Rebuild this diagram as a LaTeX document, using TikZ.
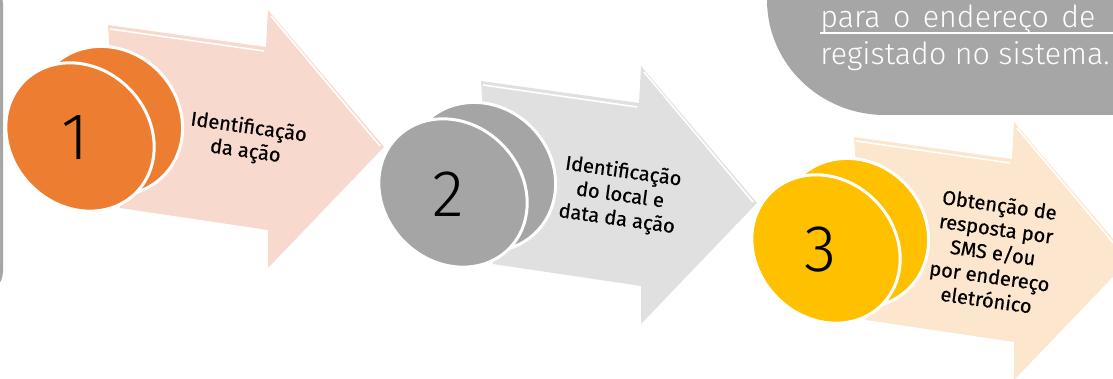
\documentclass[tikz,border=0pt]{standalone}
\usepackage{fontspec}
\setmainfont{Fira Sans}
\newfontfamily\lightfont{Fira Sans Light}
\newfontfamily\labelfont{Fira Sans}[FakeBold=0.6]
\usetikzlibrary{shapes.geometric}

\definecolor{stepone}{HTML}{ED7D31}
\definecolor{steponelight}{HTML}{F7D9CE}
\definecolor{steptwo}{HTML}{A5A5A5}
\definecolor{steptwolight}{HTML}{E0E0E0}
\definecolor{stepthree}{HTML}{FFC000}
\definecolor{stepthreelight}{HTML}{FCE6CD}
\definecolor{panelgrey}{HTML}{A6A6A6}

\begin{document}
\begin{tikzpicture}[
  x=0.5pt, y=-0.5pt,
  bigarrow/.style={fill=#1},
  glint/.style={draw=white, line width=0.8pt},
  backdisc/.style={ellipse, fill=#1, draw=white, line width=1.5pt, minimum width=78pt, minimum height=71pt, rotate=-45},
  frontdisc/.style={ellipse, fill=#1, draw=white, line width=1.5pt, minimum width=79pt, minimum height=69pt, rotate=-45},
  digit/.style={inner sep=0pt, font=\lightfont\fontsize{33}{33}\selectfont},
  steplabel/.style={align=center, rotate=-8, inner sep=0pt, font=\labelfont\fontsize{10}{12}\selectfont},
  paneltext/.style={anchor=base west, inner sep=0pt, text=white, font=\lightfont\fontsize{15.2}{17}\selectfont}
]
\useasboundingbox (0,0) rectangle (1113,379);
\clip (0,0) rectangle (1113,379);

% grey panels cut by the page edge
\fill[panelgrey, rounded corners=12pt] (-40,-20) rectangle (3,295);
\fill[panelgrey] (767,-20) -- (767,0) arc[start angle=180, end angle=90, x radius=118, y radius=115] -- (1130,115) -- (1130,-20) -- cycle;
\node[paneltext] (panel1) at (820,28) {\makebox[137.5pt][s]{para o endereço de}};
\node[paneltext] (panel2) at (820,65) {registado no sistema.};
\draw[white, line width=0.75pt] ([yshift=-2.5pt]panel1.base west) -- ++(300,0);

% step 1
\fill[bigarrow=steponelight] (108,25) -- (266,47) -- (268,10) -- (384,147) -- (268,268) -- (268,230) -- (120,208) -- cycle;
\draw[glint] (110,29) -- (264,51) (271,16) -- (380,146);
\node[backdisc=stepone] (back1) at (108,121) {};
\node[frontdisc=stepone] (disc1) at (80,137) {};
\node[digit] (num1) at (75,138) {1};
\node[steplabel] (label1) at (247,140) {Identificação\\da ação};

% step 2
\begin{scope}[shift={(373,56)}]
\fill[bigarrow=steptwolight] (108,25) -- (266,47) -- (268,10) -- (384,147) -- (268,268) -- (268,230) -- (120,208) -- cycle;
\draw[glint] (110,29) -- (264,51) (271,16) -- (380,146);
\node[backdisc=steptwo] (back2) at (108,121) {};
\node[frontdisc=steptwo] (disc2) at (80,137) {};
\node[digit] (num2) at (75,138) {2};
\node[steplabel] (label2) at (247,140) {Identificação\\do local e\\data da ação};
\end{scope}

% step 3
\begin{scope}[shift={(746,112)}]
\fill[bigarrow=stepthreelight] (108,25) -- (266,47) -- (268,10) -- (384,147) -- (268,268) -- (268,230) -- (120,208) -- cycle;
\draw[glint] (110,29) -- (264,51) (271,16) -- (380,146);
\node[backdisc=stepthree] (back3) at (108,121) {};
\node[frontdisc=stepthree] (disc3) at (80,137) {};
\node[digit] (num3) at (75,138) {3};
\node[steplabel] (label3) at (247,140) {Obtenção de\\resposta por\\SMS e/ou\\por endereço\\eletrónico};
\end{scope}
\end{tikzpicture}
\end{document}
